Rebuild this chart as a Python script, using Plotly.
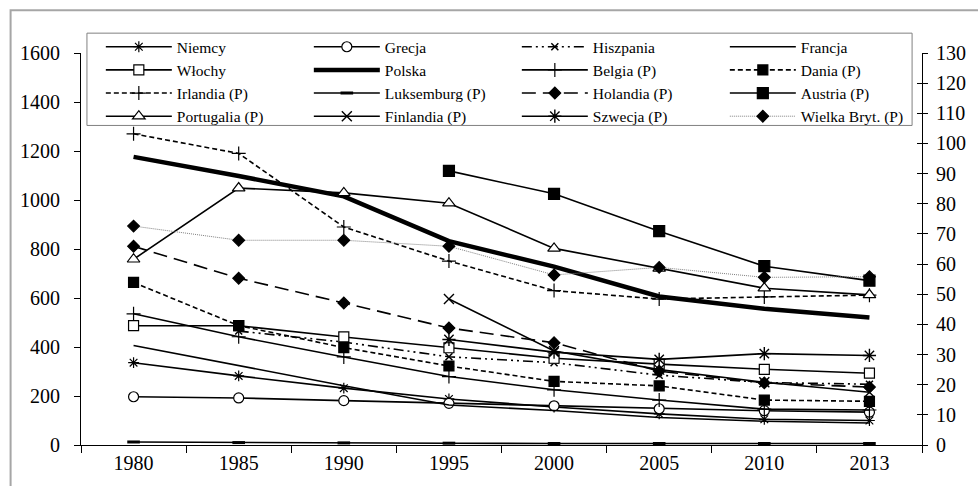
import plotly.graph_objects as go

years = ["1980", "1985", "1990", "1995", "2000", "2005", "2010", "2013"]

# left axis series
niemcy = [336, 282, 232, 188, 155, 127, 105, 100]
grecja = [197, 192, 181, 170, 160, 148, 140, 134]
hiszpania = [None, 465, 420, 360, 336, 285, 255, 248]
francja = [406, 323, 242, 163, 141, 112, 97, 90]
wlochy = [487, 487, 441, 397, 354, 330, 309, 293]
polska = [1176, 1098, 1015, 832, 728, 606, 556, 520]
# right axis series (P)
belgia = [43.5, 35.9, 29.2, 22.7, 18.3, 14.9, 11.9, 11.6]
dania = [53.9, 39.6, 32.3, 26.2, 21.1, 19.6, 14.9, 14.5]
irlandia = [103.2, 96.7, 72.3, 61.0, 51.2, 48.4, 49.1, 49.7]
luksemburg = [1.0, 0.8, 0.7, 0.6, 0.5, 0.5, 0.5, 0.5]
holandia = [65.9, 55.3, 47.1, 38.8, 33.9, 24.5, 20.6, 19.2]
austria = [None, None, None, 90.9, 83.3, 70.9, 59.3, 54.5]
portugalia = [61.6, 85.2, 83.6, 80.2, 65.2, 58.6, 52.0, 49.8]
finlandia = [None, None, None, 48.4, 31.2, 25.0, 20.8, 17.5]
szwecja = [None, None, None, 35.0, 30.8, 28.4, 30.3, 29.7]
wielka_brytania = [72.6, 67.9, 67.9, 65.9, 56.4, 58.9, 55.6, 55.8]

FONT = "Liberation Serif"
BLACK = "#000000"

fig = go.Figure()


def add(name, vals, axis, lw=1.6, dash="solid", lcolor=BLACK, symbol=None,
        msize=9, mcolor=BLACK, mline=BLACK, mlw=1.2):
    mode = "lines+markers" if symbol else "lines"
    marker = dict(symbol=symbol, size=msize, color=mcolor,
                  line=dict(color=mline, width=mlw)) if symbol else None
    fig.add_trace(go.Scatter(
        x=years, y=vals, name=name, mode=mode, yaxis=axis,
        line=dict(color=lcolor, width=lw, dash=dash),
        marker=marker, connectgaps=False, hoverinfo="skip"))


add("Niemcy", niemcy, "y", symbol="asterisk-open", msize=9)
add("Grecja", grecja, "y", symbol="circle", msize=10, mcolor="white")
add("Hiszpania", hiszpania, "y", dash="10px,4px,2px,4px,2px,4px",
    symbol="x-thin-open", msize=7, mlw=1.5)
add("Francja", francja, "y")
add("Włochy", wlochy, "y", symbol="square", msize=10, mcolor="white")
add("Polska", polska, "y", lw=4.5)
add("Belgia (P)", belgia, "y2", symbol="cross-thin-open", msize=10,
    mline="#333399", mlw=1.2)
add("Dania (P)", dania, "y2", dash="5px,3px", symbol="square", msize=10)
add("Irlandia (P)", irlandia, "y2", dash="5px,3px", symbol="cross-thin-open",
    msize=10, mlw=1.2)
add("Luksemburg (P)", luksemburg, "y2", symbol="line-ew-open", msize=9, mlw=3)
add("Holandia (P)", holandia, "y2", dash="14px,7px", symbol="diamond", msize=9)
add("Austria (P)", austria, "y2", symbol="square", msize=11)
add("Portugalia (P)", portugalia, "y2", symbol="triangle-up", msize=11,
    mcolor="white")
add("Finlandia (P)", finlandia, "y2", symbol="x-thin-open", msize=10, mlw=1.4)
add("Szwecja (P)", szwecja, "y2", symbol="asterisk-open", msize=11, mlw=1.4)
add("Wielka Bryt. (P)", wielka_brytania, "y2", lw=1, dash="1px,1px",
    lcolor="#808080", symbol="diamond", msize=9)

# helper trace to show crossing ticks on the right axis
fig.add_trace(go.Scatter(x=[], y=[], yaxis="y3", showlegend=False,
                         hoverinfo="skip"))

L, R, T, B = 81, 49, 53, 38
W, H = 978, 486
pw, ph = W - L - R, H - T - B


def px_x(x):
    return (x - L) / pw


def px_y(y):
    return (H - B - y) / ph


fig.update_layout(
    width=W, height=H,
    margin=dict(l=L, r=R, t=T, b=B, pad=0),
    paper_bgcolor="white", plot_bgcolor="white",
    font=dict(family=FONT, color=BLACK, size=20),
    showlegend=True,
    legend=dict(
        orientation="h", x=px_x(101), y=px_y(30), xanchor="left",
        yanchor="top", bgcolor="rgba(0,0,0,0)", borderwidth=0,
        font=dict(family=FONT, size=15.5, color=BLACK),
        itemwidth=66, entrywidth=127, entrywidthmode="pixels",
        traceorder="normal", itemclick=False, itemdoubleclick=False,
    ),
    xaxis=dict(
        type="category", categoryorder="array", categoryarray=years,
        range=[-0.5, 7.5], showline=True, linecolor=BLACK, linewidth=1,
        ticks="outside", tickson="boundaries", ticklen=7, tickcolor=BLACK,
        showgrid=False, zeroline=False, tickfont=dict(size=20),
    ),
    yaxis=dict(
        range=[0, 1600], tick0=0, dtick=200, showline=True, linecolor=BLACK,
        linewidth=1, ticks="outside", ticklen=6, tickcolor=BLACK,
        showgrid=False, zeroline=False, tickfont=dict(size=20),
        ticklabelstandoff=10,
    ),
    yaxis2=dict(
        range=[0, 130], tick0=0, dtick=10, overlaying="y", side="right",
        anchor="x", showline=True, linecolor=BLACK, linewidth=1,
        ticks="outside", ticklen=5, tickcolor=BLACK, showgrid=False,
        zeroline=False, tickfont=dict(size=20), ticklabelstandoff=4,
    ),
    yaxis3=dict(
        range=[0, 130], tick0=0, dtick=10, overlaying="y", side="right",
        anchor="x", showline=False, ticks="inside", ticklen=5,
        tickcolor=BLACK, showgrid=False, zeroline=False,
        showticklabels=False,
    ),
    shapes=[
        dict(type="rect", xref="paper", yref="paper",
             x0=px_x(87), x1=px_x(919), y0=px_y(126), y1=px_y(33),
             line=dict(color="#808080", width=1), fillcolor="white",
             layer="below"),
        dict(type="rect", xref="paper", yref="paper",
             x0=px_x(10), x1=px_x(1000), y0=px_y(500), y1=px_y(10),
             line=dict(color="#a6a6a6", width=2), fillcolor="rgba(0,0,0,0)",
             layer="below"),
    ],
)

fig.write_html(
    "out.html",
    config={"staticPlot": True},
    post_script="document.body.style.margin='0px';"
                "document.body.style.overflow='hidden';",
)
